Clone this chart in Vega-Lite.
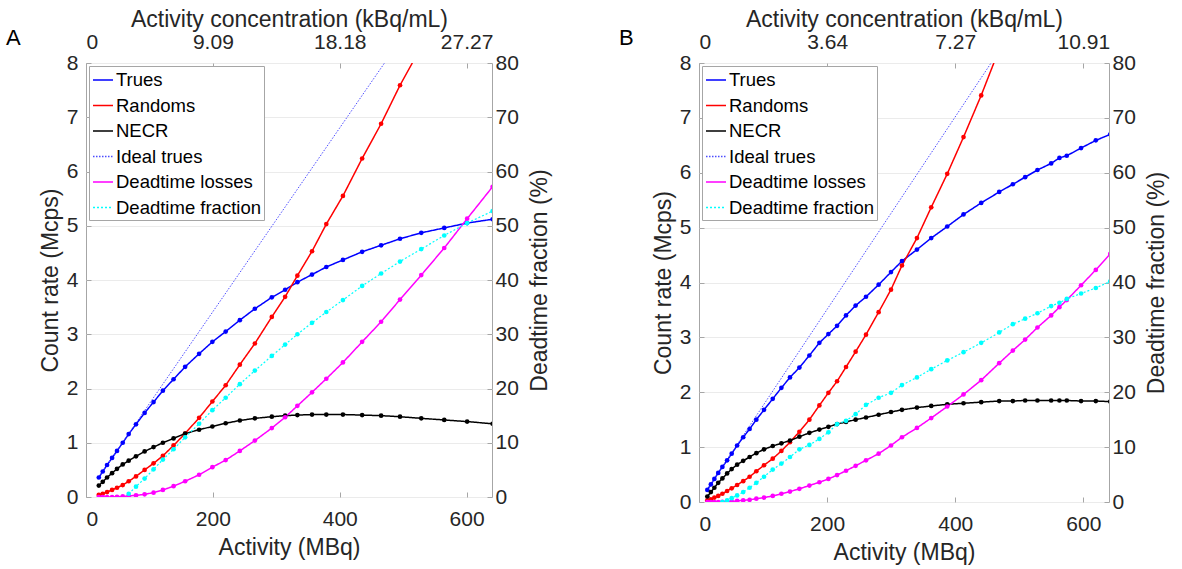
{
"$schema": "https://vega.github.io/schema/vega-lite/v6.json",
"padding": {"left": 5, "right": 3, "top": 7, "bottom": 3},
"config": {
 "font": "Liberation Sans",
 "view": {"stroke": "#a6a6a6", "strokeWidth": 1},
 "axis": {"labelFont": "Liberation Sans", "titleFont": "Liberation Sans", "labelFontSize": 21, "titleFontSize": 23, "labelColor": "#262626", "titleColor": "#262626", "titleFontWeight": "normal", "domain": false, "tickColor": "#a6a6a6", "tickSize": -5, "grid": false, "labelPadding": 13, "titlePadding": 4},
 "axisTop": {"labelPadding": 16, "titlePadding": 0},
 "axisBottom": {"labelPadding": 16, "titlePadding": 7},
 "axisRight": {"labelPadding": 8, "titlePadding": 10},
 "legend": {"orient": "top-left", "offset": 3, "fillColor": "white", "strokeColor": "#a6a6a6", "padding": 3, "labelFontSize": 18.5, "labelFont": "Liberation Sans", "labelColor": "#000000", "symbolType": "stroke", "symbolSize": 400, "symbolStrokeWidth": 1.5, "rowPadding": 4.5, "labelOffset": 2, "cornerRadius": 0},
 "title": {"font": "Liberation Sans", "fontSize": 22, "fontWeight": "normal", "color": "#000000"}
},
"datasets": {
 "A": [
  {"series":"Trues","activity":20.2,"value":0.36},{"series":"Trues","activity":26.4,"value":0.47},{"series":"Trues","activity":33.2,"value":0.59},{"series":"Trues","activity":41.1,"value":0.72},{"series":"Trues","activity":48.9,"value":0.85},{"series":"Trues","activity":57.9,"value":1.0},{"series":"Trues","activity":67.3,"value":1.16},{"series":"Trues","activity":78.8,"value":1.34},{"series":"Trues","activity":92.4,"value":1.55},{"series":"Trues","activity":106.5,"value":1.75},{"series":"Trues","activity":121.2,"value":1.96},{"series":"Trues","activity":138,"value":2.17},{"series":"Trues","activity":156.3,"value":2.4},{"series":"Trues","activity":178.3,"value":2.64},{"series":"Trues","activity":199.2,"value":2.86},{"series":"Trues","activity":220.2,"value":3.05},{"series":"Trues","activity":242.5,"value":3.26},{"series":"Trues","activity":266.2,"value":3.47},{"series":"Trues","activity":292.9,"value":3.68},{"series":"Trues","activity":313.9,"value":3.82},{"series":"Trues","activity":333.2,"value":3.96},{"series":"Trues","activity":356.3,"value":4.1},{"series":"Trues","activity":378.8,"value":4.24},{"series":"Trues","activity":405,"value":4.37},{"series":"Trues","activity":435.3,"value":4.52},{"series":"Trues","activity":465.2,"value":4.64},{"series":"Trues","activity":495,"value":4.76},{"series":"Trues","activity":528.5,"value":4.87},{"series":"Trues","activity":564.7,"value":4.96},{"series":"Trues","activity":600.8,"value":5.05},{"series":"Trues","activity":641,"value":5.12},
  {"series":"Randoms","activity":20.2,"value":0.04},{"series":"Randoms","activity":26.4,"value":0.06},{"series":"Randoms","activity":33.2,"value":0.09},{"series":"Randoms","activity":41.1,"value":0.13},{"series":"Randoms","activity":48.9,"value":0.17},{"series":"Randoms","activity":57.9,"value":0.22},{"series":"Randoms","activity":67.3,"value":0.29},{"series":"Randoms","activity":78.8,"value":0.38},{"series":"Randoms","activity":92.4,"value":0.5},{"series":"Randoms","activity":106.5,"value":0.62},{"series":"Randoms","activity":121.2,"value":0.76},{"series":"Randoms","activity":138,"value":0.95},{"series":"Randoms","activity":156.3,"value":1.17},{"series":"Randoms","activity":178.3,"value":1.46},{"series":"Randoms","activity":199.2,"value":1.76},{"series":"Randoms","activity":220.2,"value":2.06},{"series":"Randoms","activity":242.5,"value":2.44},{"series":"Randoms","activity":266.2,"value":2.83},{"series":"Randoms","activity":292.9,"value":3.32},{"series":"Randoms","activity":313.9,"value":3.69},{"series":"Randoms","activity":333.2,"value":4.08},{"series":"Randoms","activity":356.3,"value":4.53},{"series":"Randoms","activity":378.8,"value":5.03},{"series":"Randoms","activity":405,"value":5.55},{"series":"Randoms","activity":435.3,"value":6.24},{"series":"Randoms","activity":465.2,"value":6.88},{"series":"Randoms","activity":495,"value":7.59},{"series":"Randoms","activity":528.5,"value":8.3},
  {"series":"NECR","activity":20.2,"value":0.21},{"series":"NECR","activity":26.4,"value":0.28},{"series":"NECR","activity":33.2,"value":0.36},{"series":"NECR","activity":41.1,"value":0.44},{"series":"NECR","activity":48.9,"value":0.52},{"series":"NECR","activity":57.9,"value":0.6},{"series":"NECR","activity":67.3,"value":0.67},{"series":"NECR","activity":78.8,"value":0.75},{"series":"NECR","activity":92.4,"value":0.84},{"series":"NECR","activity":106.5,"value":0.92},{"series":"NECR","activity":121.2,"value":1.0},{"series":"NECR","activity":138,"value":1.08},{"series":"NECR","activity":156.3,"value":1.17},{"series":"NECR","activity":178.3,"value":1.24},{"series":"NECR","activity":199.2,"value":1.3},{"series":"NECR","activity":220.2,"value":1.36},{"series":"NECR","activity":242.5,"value":1.41},{"series":"NECR","activity":266.2,"value":1.45},{"series":"NECR","activity":292.9,"value":1.48},{"series":"NECR","activity":313.9,"value":1.5},{"series":"NECR","activity":333.2,"value":1.51},{"series":"NECR","activity":356.3,"value":1.52},{"series":"NECR","activity":378.8,"value":1.52},{"series":"NECR","activity":405,"value":1.52},{"series":"NECR","activity":435.3,"value":1.51},{"series":"NECR","activity":465.2,"value":1.5},{"series":"NECR","activity":495,"value":1.48},{"series":"NECR","activity":528.5,"value":1.45},{"series":"NECR","activity":564.7,"value":1.42},{"series":"NECR","activity":600.8,"value":1.39},{"series":"NECR","activity":641,"value":1.35},
  {"series":"Ideal trues","activity":20.2,"value":0.37},{"series":"Ideal trues","activity":480,"value":8.16},
  {"series":"Deadtime losses","activity":20.2,"value":0},{"series":"Deadtime losses","activity":26.4,"value":0},{"series":"Deadtime losses","activity":33.2,"value":0},{"series":"Deadtime losses","activity":41.1,"value":0},{"series":"Deadtime losses","activity":48.9,"value":0.005},{"series":"Deadtime losses","activity":57.9,"value":0.01},{"series":"Deadtime losses","activity":67.3,"value":0.02},{"series":"Deadtime losses","activity":78.8,"value":0.03},{"series":"Deadtime losses","activity":92.4,"value":0.05},{"series":"Deadtime losses","activity":106.5,"value":0.08},{"series":"Deadtime losses","activity":121.2,"value":0.13},{"series":"Deadtime losses","activity":138,"value":0.2},{"series":"Deadtime losses","activity":156.3,"value":0.29},{"series":"Deadtime losses","activity":178.3,"value":0.41},{"series":"Deadtime losses","activity":199.2,"value":0.55},{"series":"Deadtime losses","activity":220.2,"value":0.68},{"series":"Deadtime losses","activity":242.5,"value":0.85},{"series":"Deadtime losses","activity":266.2,"value":1.04},{"series":"Deadtime losses","activity":292.9,"value":1.27},{"series":"Deadtime losses","activity":313.9,"value":1.47},{"series":"Deadtime losses","activity":333.2,"value":1.68},{"series":"Deadtime losses","activity":356.3,"value":1.93},{"series":"Deadtime losses","activity":378.8,"value":2.18},{"series":"Deadtime losses","activity":405,"value":2.48},{"series":"Deadtime losses","activity":435.3,"value":2.86},{"series":"Deadtime losses","activity":465.2,"value":3.23},{"series":"Deadtime losses","activity":495,"value":3.64},{"series":"Deadtime losses","activity":528.5,"value":4.09},{"series":"Deadtime losses","activity":564.7,"value":4.59},{"series":"Deadtime losses","activity":600.8,"value":5.13},{"series":"Deadtime losses","activity":641,"value":5.72},
  {"series":"Deadtime fraction","activity":67.3,"value":0.6},{"series":"Deadtime fraction","activity":78.8,"value":1.9},{"series":"Deadtime fraction","activity":92.4,"value":3.4},{"series":"Deadtime fraction","activity":106.5,"value":5.1},{"series":"Deadtime fraction","activity":121.2,"value":6.9},{"series":"Deadtime fraction","activity":138,"value":8.8},{"series":"Deadtime fraction","activity":156.3,"value":11.0},{"series":"Deadtime fraction","activity":178.3,"value":13.5},{"series":"Deadtime fraction","activity":199.2,"value":16.0},{"series":"Deadtime fraction","activity":220.2,"value":18.3},{"series":"Deadtime fraction","activity":242.5,"value":20.8},{"series":"Deadtime fraction","activity":266.2,"value":23.3},{"series":"Deadtime fraction","activity":292.9,"value":26.0},{"series":"Deadtime fraction","activity":313.9,"value":28.1},{"series":"Deadtime fraction","activity":333.2,"value":30.0},{"series":"Deadtime fraction","activity":356.3,"value":32.1},{"series":"Deadtime fraction","activity":378.8,"value":34.1},{"series":"Deadtime fraction","activity":405,"value":36.3},{"series":"Deadtime fraction","activity":435.3,"value":38.9},{"series":"Deadtime fraction","activity":465.2,"value":41.2},{"series":"Deadtime fraction","activity":495,"value":43.4},{"series":"Deadtime fraction","activity":528.5,"value":45.7},{"series":"Deadtime fraction","activity":564.7,"value":48.2},{"series":"Deadtime fraction","activity":600.8,"value":50.5},{"series":"Deadtime fraction","activity":641,"value":52.7}
 ],
 "B": [
  {"series":"Trues","activity":13,"value":0.22},{"series":"Trues","activity":18.5,"value":0.32},{"series":"Trues","activity":24,"value":0.42},{"series":"Trues","activity":30,"value":0.53},{"series":"Trues","activity":36.5,"value":0.64},{"series":"Trues","activity":43.9,"value":0.76},{"series":"Trues","activity":51,"value":0.88},{"series":"Trues","activity":59.5,"value":1.03},{"series":"Trues","activity":69,"value":1.18},{"series":"Trues","activity":79,"value":1.33},{"series":"Trues","activity":89.5,"value":1.5},{"series":"Trues","activity":101.5,"value":1.68},{"series":"Trues","activity":115.1,"value":1.88},{"series":"Trues","activity":128.6,"value":2.08},{"series":"Trues","activity":142,"value":2.27},{"series":"Trues","activity":156.7,"value":2.45},{"series":"Trues","activity":172.3,"value":2.67},{"series":"Trues","activity":187.9,"value":2.9},{"series":"Trues","activity":202,"value":3.06},{"series":"Trues","activity":215.5,"value":3.21},{"series":"Trues","activity":229.5,"value":3.4},{"series":"Trues","activity":244.5,"value":3.58},{"series":"Trues","activity":260.7,"value":3.74},{"series":"Trues","activity":280.4,"value":3.96},{"series":"Trues","activity":299.7,"value":4.19},{"series":"Trues","activity":316.8,"value":4.39},{"series":"Trues","activity":340.2,"value":4.6},{"series":"Trues","activity":362.5,"value":4.81},{"series":"Trues","activity":387.5,"value":5.02},{"series":"Trues","activity":412.9,"value":5.24},{"series":"Trues","activity":440.5,"value":5.45},{"series":"Trues","activity":468.6,"value":5.65},{"series":"Trues","activity":489.9,"value":5.79},{"series":"Trues","activity":509.1,"value":5.92},{"series":"Trues","activity":528.3,"value":6.05},{"series":"Trues","activity":549.7,"value":6.17},{"series":"Trues","activity":562.6,"value":6.27},{"series":"Trues","activity":574.1,"value":6.31},{"series":"Trues","activity":596.4,"value":6.45},{"series":"Trues","activity":619.4,"value":6.59},{"series":"Trues","activity":642,"value":6.7},
  {"series":"Randoms","activity":13,"value":0.03},{"series":"Randoms","activity":18.5,"value":0.05},{"series":"Randoms","activity":24,"value":0.08},{"series":"Randoms","activity":30,"value":0.11},{"series":"Randoms","activity":36.5,"value":0.15},{"series":"Randoms","activity":43.9,"value":0.2},{"series":"Randoms","activity":51,"value":0.25},{"series":"Randoms","activity":59.5,"value":0.31},{"series":"Randoms","activity":69,"value":0.38},{"series":"Randoms","activity":79,"value":0.46},{"series":"Randoms","activity":89.5,"value":0.56},{"series":"Randoms","activity":101.5,"value":0.67},{"series":"Randoms","activity":115.1,"value":0.79},{"series":"Randoms","activity":128.6,"value":0.93},{"series":"Randoms","activity":142,"value":1.09},{"series":"Randoms","activity":156.7,"value":1.28},{"series":"Randoms","activity":172.3,"value":1.5},{"series":"Randoms","activity":187.9,"value":1.76},{"series":"Randoms","activity":202,"value":1.99},{"series":"Randoms","activity":215.5,"value":2.2},{"series":"Randoms","activity":229.5,"value":2.46},{"series":"Randoms","activity":244.5,"value":2.74},{"series":"Randoms","activity":260.7,"value":3.05},{"series":"Randoms","activity":280.4,"value":3.46},{"series":"Randoms","activity":299.7,"value":3.87},{"series":"Randoms","activity":316.8,"value":4.31},{"series":"Randoms","activity":340.2,"value":4.81},{"series":"Randoms","activity":362.5,"value":5.37},{"series":"Randoms","activity":387.5,"value":5.98},{"series":"Randoms","activity":412.9,"value":6.65},{"series":"Randoms","activity":440.5,"value":7.41},{"series":"Randoms","activity":468.6,"value":8.25},
  {"series":"NECR","activity":13,"value":0.1},{"series":"NECR","activity":18.5,"value":0.18},{"series":"NECR","activity":24,"value":0.26},{"series":"NECR","activity":30,"value":0.35},{"series":"NECR","activity":36.5,"value":0.43},{"series":"NECR","activity":43.9,"value":0.52},{"series":"NECR","activity":51,"value":0.6},{"series":"NECR","activity":59.5,"value":0.68},{"series":"NECR","activity":69,"value":0.75},{"series":"NECR","activity":79,"value":0.82},{"series":"NECR","activity":89.5,"value":0.89},{"series":"NECR","activity":101.5,"value":0.96},{"series":"NECR","activity":115.1,"value":1.02},{"series":"NECR","activity":128.6,"value":1.07},{"series":"NECR","activity":142,"value":1.12},{"series":"NECR","activity":156.7,"value":1.19},{"series":"NECR","activity":172.3,"value":1.26},{"series":"NECR","activity":187.9,"value":1.32},{"series":"NECR","activity":202,"value":1.37},{"series":"NECR","activity":215.5,"value":1.42},{"series":"NECR","activity":229.5,"value":1.46},{"series":"NECR","activity":244.5,"value":1.5},{"series":"NECR","activity":260.7,"value":1.54},{"series":"NECR","activity":280.4,"value":1.59},{"series":"NECR","activity":299.7,"value":1.64},{"series":"NECR","activity":316.8,"value":1.68},{"series":"NECR","activity":340.2,"value":1.72},{"series":"NECR","activity":362.5,"value":1.75},{"series":"NECR","activity":387.5,"value":1.78},{"series":"NECR","activity":412.9,"value":1.8},{"series":"NECR","activity":440.5,"value":1.82},{"series":"NECR","activity":468.6,"value":1.84},{"series":"NECR","activity":489.9,"value":1.84},{"series":"NECR","activity":509.1,"value":1.85},{"series":"NECR","activity":528.3,"value":1.85},{"series":"NECR","activity":549.7,"value":1.85},{"series":"NECR","activity":562.6,"value":1.85},{"series":"NECR","activity":574.1,"value":1.85},{"series":"NECR","activity":596.4,"value":1.84},{"series":"NECR","activity":619.4,"value":1.84},{"series":"NECR","activity":642,"value":1.83},
  {"series":"Ideal trues","activity":13,"value":0.23},{"series":"Ideal trues","activity":465,"value":8.16},
  {"series":"Deadtime losses","activity":13,"value":0},{"series":"Deadtime losses","activity":18.5,"value":0},{"series":"Deadtime losses","activity":24,"value":0},{"series":"Deadtime losses","activity":30,"value":0},{"series":"Deadtime losses","activity":36.5,"value":0.005},{"series":"Deadtime losses","activity":43.9,"value":0.01},{"series":"Deadtime losses","activity":51,"value":0.01},{"series":"Deadtime losses","activity":59.5,"value":0.02},{"series":"Deadtime losses","activity":69,"value":0.03},{"series":"Deadtime losses","activity":79,"value":0.04},{"series":"Deadtime losses","activity":89.5,"value":0.06},{"series":"Deadtime losses","activity":101.5,"value":0.08},{"series":"Deadtime losses","activity":115.1,"value":0.11},{"series":"Deadtime losses","activity":128.6,"value":0.15},{"series":"Deadtime losses","activity":142,"value":0.19},{"series":"Deadtime losses","activity":156.7,"value":0.24},{"series":"Deadtime losses","activity":172.3,"value":0.3},{"series":"Deadtime losses","activity":187.9,"value":0.36},{"series":"Deadtime losses","activity":202,"value":0.42},{"series":"Deadtime losses","activity":215.5,"value":0.49},{"series":"Deadtime losses","activity":229.5,"value":0.57},{"series":"Deadtime losses","activity":244.5,"value":0.66},{"series":"Deadtime losses","activity":260.7,"value":0.76},{"series":"Deadtime losses","activity":280.4,"value":0.88},{"series":"Deadtime losses","activity":299.7,"value":1.03},{"series":"Deadtime losses","activity":316.8,"value":1.18},{"series":"Deadtime losses","activity":340.2,"value":1.35},{"series":"Deadtime losses","activity":362.5,"value":1.53},{"series":"Deadtime losses","activity":387.5,"value":1.74},{"series":"Deadtime losses","activity":412.9,"value":1.96},{"series":"Deadtime losses","activity":440.5,"value":2.22},{"series":"Deadtime losses","activity":468.6,"value":2.53},{"series":"Deadtime losses","activity":489.9,"value":2.76},{"series":"Deadtime losses","activity":509.1,"value":2.96},{"series":"Deadtime losses","activity":528.3,"value":3.18},{"series":"Deadtime losses","activity":549.7,"value":3.4},{"series":"Deadtime losses","activity":562.6,"value":3.55},{"series":"Deadtime losses","activity":574.1,"value":3.68},{"series":"Deadtime losses","activity":596.4,"value":3.95},{"series":"Deadtime losses","activity":619.4,"value":4.23},{"series":"Deadtime losses","activity":642,"value":4.52},
  {"series":"Deadtime fraction","activity":36.5,"value":0.0},{"series":"Deadtime fraction","activity":43.9,"value":0.3},{"series":"Deadtime fraction","activity":51,"value":0.7},{"series":"Deadtime fraction","activity":59.5,"value":1.2},{"series":"Deadtime fraction","activity":69,"value":1.8},{"series":"Deadtime fraction","activity":79,"value":2.6},{"series":"Deadtime fraction","activity":89.5,"value":3.5},{"series":"Deadtime fraction","activity":101.5,"value":4.6},{"series":"Deadtime fraction","activity":115.1,"value":5.9},{"series":"Deadtime fraction","activity":128.6,"value":7.0},{"series":"Deadtime fraction","activity":142,"value":8.2},{"series":"Deadtime fraction","activity":156.7,"value":9.6},{"series":"Deadtime fraction","activity":172.3,"value":10.4},{"series":"Deadtime fraction","activity":187.9,"value":11.5},{"series":"Deadtime fraction","activity":202,"value":12.7},{"series":"Deadtime fraction","activity":215.5,"value":14.2},{"series":"Deadtime fraction","activity":229.5,"value":14.8},{"series":"Deadtime fraction","activity":244.5,"value":16.0},{"series":"Deadtime fraction","activity":260.7,"value":17.7},{"series":"Deadtime fraction","activity":280.4,"value":19.0},{"series":"Deadtime fraction","activity":299.7,"value":19.9},{"series":"Deadtime fraction","activity":316.8,"value":21.3},{"series":"Deadtime fraction","activity":340.2,"value":22.7},{"series":"Deadtime fraction","activity":362.5,"value":24.2},{"series":"Deadtime fraction","activity":387.5,"value":25.8},{"series":"Deadtime fraction","activity":412.9,"value":27.3},{"series":"Deadtime fraction","activity":440.5,"value":29.0},{"series":"Deadtime fraction","activity":468.6,"value":30.9},{"series":"Deadtime fraction","activity":489.9,"value":32.4},{"series":"Deadtime fraction","activity":509.1,"value":33.4},{"series":"Deadtime fraction","activity":528.3,"value":34.4},{"series":"Deadtime fraction","activity":549.7,"value":35.7},{"series":"Deadtime fraction","activity":562.6,"value":36.3},{"series":"Deadtime fraction","activity":574.1,"value":37.0},{"series":"Deadtime fraction","activity":596.4,"value":38.0},{"series":"Deadtime fraction","activity":619.4,"value":39.0},{"series":"Deadtime fraction","activity":642,"value":40.2}
 ]
},
"spacing": 66,
"resolve": {"scale": {"color": "independent", "strokeDash": "independent"}, "legend": {"color": "independent", "strokeDash": "independent"}},
"hconcat": [
 {
  "width": 406, "height": 434,
  "data": {"name": "A"},
  "title": {"text": "A", "orient": "left", "anchor": "end", "frame": "group", "angle": 0, "align": "right", "baseline": "bottom", "dy": -13, "offset": 4},
  "layer": [
   {
    "transform": [{"filter": "datum.series !== 'Deadtime fraction'"}],
    "encoding": {
     "x": {"field": "activity", "type": "quantitative", "scale": {"domain": [0, 640], "nice": false, "zero": false}, "axis": {"orient": "bottom", "values": [0, 200, 400, 600], "title": "Activity (MBq)"}},
     "y": {"field": "value", "type": "quantitative", "scale": {"domain": [0, 8], "nice": false}, "axis": {"orient": "left", "values": [0,1,2,3,4,5,6,7,8], "title": "Count rate (Mcps)", "grid": true, "gridColor": "#ebebeb"}},
     "color": {"field": "series", "type": "nominal", "scale": {"domain": ["Trues","Randoms","NECR","Ideal trues","Deadtime losses","Deadtime fraction"], "range": ["#0000ff","#ff0000","#000000","#4d4dff","#ff00ff","#00ffff"]}, "legend": {"title": null}}
    },
    "layer": [
     {"mark": {"type": "line", "clip": true}, "encoding": {
       "strokeDash": {"field": "series", "type": "nominal", "scale": {"domain": ["Trues","Randoms","NECR","Ideal trues","Deadtime losses","Deadtime fraction"], "range": [[1,0],[1,0],[1,0],[1.5,1.5],[1,0],[2,2]]}, "legend": {"title": null}},
       "strokeWidth": {"condition": {"test": "datum.series === 'Ideal trues'", "value": 1}, "value": 1.5}}},
     {"transform": [{"filter": "datum.series !== 'Ideal trues'"}], "mark": {"type": "circle", "clip": true, "size": 22, "opacity": 1}}
    ]
   },
   {
    "transform": [{"filter": "datum.series === 'Deadtime fraction'"}],
    "encoding": {
     "x": {"field": "activity", "type": "quantitative", "scale": {"domain": [0, 640], "nice": false, "zero": false}, "axis": {"orient": "top", "values": [0, 200, 400, 600], "title": "Activity concentration (kBq/mL)", "labelExpr": "datum.value == 0 ? '0' : format(datum.value / 22, '.2f')"}},
     "y": {"field": "value", "type": "quantitative", "scale": {"domain": [0, 80], "nice": false}, "axis": {"orient": "right", "values": [0,10,20,30,40,50,60,70,80], "title": "Deadtime fraction (%)", "titleAngle": -90, "titleBaseline": "top"}},
     "color": {"field": "series", "type": "nominal", "scale": {"domain": ["Trues","Randoms","NECR","Ideal trues","Deadtime losses","Deadtime fraction"], "range": ["#0000ff","#ff0000","#000000","#4d4dff","#ff00ff","#00ffff"]}, "legend": {"title": null}}
    },
    "layer": [
     {"mark": {"type": "line", "clip": true, "strokeWidth": 1.2}, "encoding": {
       "strokeDash": {"field": "series", "type": "nominal", "scale": {"domain": ["Trues","Randoms","NECR","Ideal trues","Deadtime losses","Deadtime fraction"], "range": [[1,0],[1,0],[1,0],[1.5,1.5],[1,0],[2,2]]}, "legend": {"title": null}}}},
     {"mark": {"type": "circle", "clip": true, "size": 22, "opacity": 1}}
    ]
   }
  ],
  "resolve": {"scale": {"y": "independent"}, "axis": {"x": "independent", "y": "independent"}}
 },
 {
  "width": 410, "height": 439,
  "data": {"name": "B"},
  "title": {"text": "B", "orient": "left", "anchor": "end", "frame": "group", "angle": 0, "align": "right", "baseline": "bottom", "dy": -13, "offset": 4},
  "layer": [
   {
    "transform": [{"filter": "datum.series !== 'Deadtime fraction'"}],
    "encoding": {
     "x": {"field": "activity", "type": "quantitative", "scale": {"domain": [0, 640], "nice": false, "zero": false}, "axis": {"orient": "bottom", "values": [0, 200, 400, 600], "title": "Activity (MBq)"}},
     "y": {"field": "value", "type": "quantitative", "scale": {"domain": [0, 8], "nice": false}, "axis": {"orient": "left", "values": [0,1,2,3,4,5,6,7,8], "title": "Count rate (Mcps)", "grid": true, "gridColor": "#ebebeb"}},
     "color": {"field": "series", "type": "nominal", "scale": {"domain": ["Trues","Randoms","NECR","Ideal trues","Deadtime losses","Deadtime fraction"], "range": ["#0000ff","#ff0000","#000000","#4d4dff","#ff00ff","#00ffff"]}, "legend": {"title": null}}
    },
    "layer": [
     {"mark": {"type": "line", "clip": true}, "encoding": {
       "strokeDash": {"field": "series", "type": "nominal", "scale": {"domain": ["Trues","Randoms","NECR","Ideal trues","Deadtime losses","Deadtime fraction"], "range": [[1,0],[1,0],[1,0],[1.5,1.5],[1,0],[2,2]]}, "legend": {"title": null}},
       "strokeWidth": {"condition": {"test": "datum.series === 'Ideal trues'", "value": 1}, "value": 1.5}}},
     {"transform": [{"filter": "datum.series !== 'Ideal trues'"}], "mark": {"type": "circle", "clip": true, "size": 22, "opacity": 1}}
    ]
   },
   {
    "transform": [{"filter": "datum.series === 'Deadtime fraction'"}],
    "encoding": {
     "x": {"field": "activity", "type": "quantitative", "scale": {"domain": [0, 640], "nice": false, "zero": false}, "axis": {"orient": "top", "values": [0, 200, 400, 600], "title": "Activity concentration (kBq/mL)", "labelExpr": "datum.value == 0 ? '0' : format(datum.value / 55, '.2f')"}},
     "y": {"field": "value", "type": "quantitative", "scale": {"domain": [0, 80], "nice": false}, "axis": {"orient": "right", "values": [0,10,20,30,40,50,60,70,80], "title": "Deadtime fraction (%)", "titleAngle": -90, "titleBaseline": "top"}},
     "color": {"field": "series", "type": "nominal", "scale": {"domain": ["Trues","Randoms","NECR","Ideal trues","Deadtime losses","Deadtime fraction"], "range": ["#0000ff","#ff0000","#000000","#4d4dff","#ff00ff","#00ffff"]}, "legend": {"title": null}}
    },
    "layer": [
     {"mark": {"type": "line", "clip": true, "strokeWidth": 1.2}, "encoding": {
       "strokeDash": {"field": "series", "type": "nominal", "scale": {"domain": ["Trues","Randoms","NECR","Ideal trues","Deadtime losses","Deadtime fraction"], "range": [[1,0],[1,0],[1,0],[1.5,1.5],[1,0],[2,2]]}, "legend": {"title": null}}}},
     {"mark": {"type": "circle", "clip": true, "size": 22, "opacity": 1}}
    ]
   }
  ],
  "resolve": {"scale": {"y": "independent"}, "axis": {"x": "independent", "y": "independent"}}
 }
]
}
